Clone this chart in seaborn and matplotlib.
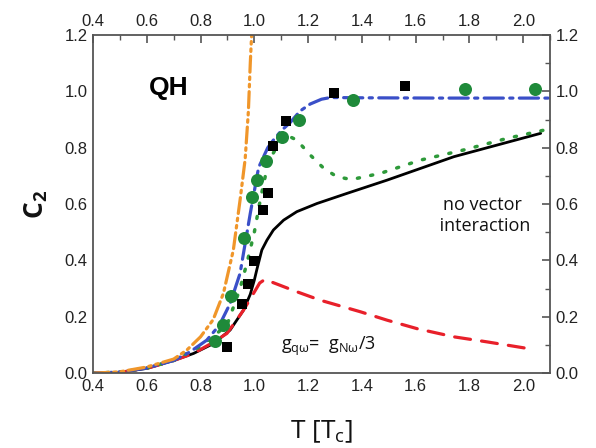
import numpy as np
import pandas as pd
import seaborn as sns
import matplotlib.pyplot as plt
from matplotlib.ticker import MultipleLocator

sns.set_style("white")
plt.rcParams['font.family'] = ['Liberation Sans', 'DejaVu Sans']
plt.rcParams['text.color'] = '#111111'
plt.rcParams['axes.labelcolor'] = '#111111'
plt.rcParams['xtick.color'] = '#222222'
plt.rcParams['ytick.color'] = '#222222'

# ---- data ----
orange_T = [0.40, 0.50, 0.60, 0.70, 0.749, 0.80, 0.847, 0.885, 0.922, 0.947, 0.966, 0.978, 0.985, 0.99]
orange_C = [0.0, 0.005, 0.022, 0.05, 0.082, 0.129, 0.19, 0.283, 0.437, 0.614, 0.76, 0.93, 1.10, 1.20]

blue_T = [0.40, 0.50, 0.60, 0.70, 0.76, 0.823, 0.87, 0.91, 0.947, 0.985, 1.016, 1.05, 1.071, 1.10, 1.134, 1.17, 1.208, 1.25, 1.283, 1.40, 1.70, 2.10]
blue_C = [0.0, 0.004, 0.018, 0.045, 0.075, 0.117, 0.17, 0.247, 0.354, 0.567, 0.73, 0.80, 0.827, 0.86, 0.89, 0.93, 0.955, 0.972, 0.978, 0.977, 0.976, 0.976]

green_T = [0.40, 0.50, 0.60, 0.70, 0.80, 0.898, 0.947, 0.975, 1.0, 1.022, 1.041, 1.07, 1.10, 1.13, 1.158, 1.208, 1.258, 1.307, 1.361, 1.469, 1.618, 1.779, 1.94, 2.09]
green_C = [0.0, 0.004, 0.018, 0.045, 0.095, 0.17, 0.30, 0.40, 0.50, 0.614, 0.70, 0.78, 0.83, 0.84, 0.827, 0.774, 0.727, 0.697, 0.687, 0.709, 0.756, 0.792, 0.833, 0.865]

black_T = [0.40, 0.50, 0.60, 0.70, 0.774, 0.848, 0.91, 0.96, 0.985, 1.0, 1.01, 1.028, 1.047, 1.071, 1.109, 1.158, 1.233, 1.345, 1.494, 1.742, 2.065]
black_C = [0.0, 0.003, 0.017, 0.045, 0.07, 0.105, 0.153, 0.224, 0.28, 0.33, 0.37, 0.437, 0.472, 0.508, 0.543, 0.573, 0.602, 0.638, 0.685, 0.768, 0.851]

red_T = [0.40, 0.50, 0.60, 0.70, 0.774, 0.848, 0.898, 0.935, 0.96, 0.997, 1.02, 1.04, 1.06, 1.158, 1.245, 1.394, 1.494, 1.605, 1.742, 1.866, 2.04]
red_C = [0.0, 0.003, 0.017, 0.045, 0.07, 0.11, 0.141, 0.19, 0.224, 0.283, 0.32, 0.333, 0.325, 0.289, 0.259, 0.218, 0.188, 0.158, 0.129, 0.111, 0.084]

sq_T = [0.899, 0.954, 0.978, 0.997, 1.032, 1.05, 1.071, 1.118, 1.298, 1.562]
sq_C = [0.092, 0.247, 0.315, 0.397, 0.579, 0.64, 0.807, 0.896, 0.995, 1.02]

circ_T = [0.854, 0.883, 0.913, 0.960, 0.991, 1.009, 1.042, 1.102, 1.167, 1.366, 1.782, 2.043]
circ_C = [0.114, 0.170, 0.275, 0.478, 0.626, 0.687, 0.754, 0.839, 0.90, 0.969, 1.007, 1.008]

x_ticks = [0.4, 0.6, 0.8, 1.0, 1.2, 1.4, 1.6, 1.8, 2.0]
y_ticks = [0.0, 0.2, 0.4, 0.6, 0.8, 1.0, 1.2]

# ---- plot ----
fig = plt.figure(figsize=(5.96, 4.48), dpi=100)
ax = fig.add_axes([0.156, 0.167, 0.767, 0.755])

def curve(T, C, color, ls, lw=2.2):
    df = pd.DataFrame({"T": T, "C": C})
    sns.lineplot(data=df, x="T", y="C", ax=ax, color=color, linestyle=ls,
                 linewidth=lw, sort=False, estimator=None)
    ax.lines[-1].set_solid_joinstyle("round")
    ax.lines[-1].set_dash_capstyle("round")

curve(black_T, black_C, "black", "-", 2.0)
curve(red_T, red_C, "#e8202a", (0, (5, 3.5)), 2.3)
curve(green_T, green_C, "#2e9a3a", (0, (0.6, 3.3)), 2.5)
curve(blue_T, blue_C, "#3a4fc8", (0, (6, 2, 1.0, 2)), 2.3)
curve(orange_T, orange_C, "#f0962a", (0, (5, 1.5, 0.8, 1.5, 0.8, 1.5)), 2.3)

sns.scatterplot(x=sq_T, y=sq_C, ax=ax, marker="s", s=62, color="black",
                edgecolor="black", linewidth=0, zorder=5)
sns.scatterplot(x=circ_T, y=circ_C, ax=ax, marker="o", s=88, color="#1f8a3a",
                edgecolor="#1f8a3a", linewidth=0, zorder=5)

ax.set_xlim(0.4, 2.1)
ax.set_ylim(0.0, 1.2)
ax.set_xticks(x_ticks)
ax.set_yticks(y_ticks)
ax.set_xticklabels([f"{v:.1f}" for v in x_ticks])
ax.set_yticklabels([f"{v:.1f}" for v in y_ticks])
ax.xaxis.set_minor_locator(MultipleLocator(0.1))
ax.yaxis.set_minor_locator(MultipleLocator(0.1))
ax.tick_params(which="both", direction="in", top=True, right=True,
               labeltop=True, labelright=True, color="#555555")
ax.tick_params(which="major", length=6, width=1.2, labelsize=12, pad=4)
ax.tick_params(which="minor", length=3.5, width=1.0)
for s in ax.spines.values():
    s.set_color("#555555")
    s.set_linewidth(1.3)

ax.set_xlabel("T [T$_\\mathregular{c}$]", fontsize=19, family=["Open Sans", "DejaVu Sans"], labelpad=18)
ax.set_ylabel("C$_\\mathregular{2}$", fontsize=19, fontweight="bold", family=["Open Sans", "DejaVu Sans"], labelpad=10)

ax.text(0.68, 1.01, "QH", fontsize=19, fontweight="bold", ha="center", va="center",
        family=["Liberation Sans", "DejaVu Sans"], color="black")
ax.text(1.85, 0.56, "no vector\n interaction", fontsize=13, ha="center", va="center",
        family=["Open Sans", "DejaVu Sans"], linespacing=1.2)
ax.text(1.1, 0.095, "g$_{\\mathregular{q\\omega}}$=  g$_{\\mathregular{N\\omega}}$/3", fontsize=13,
        ha="left", va="center", family=["Open Sans", "DejaVu Sans"])

ax.set_facecolor("white")
fig.savefig("out.png", dpi=100, facecolor="white")
